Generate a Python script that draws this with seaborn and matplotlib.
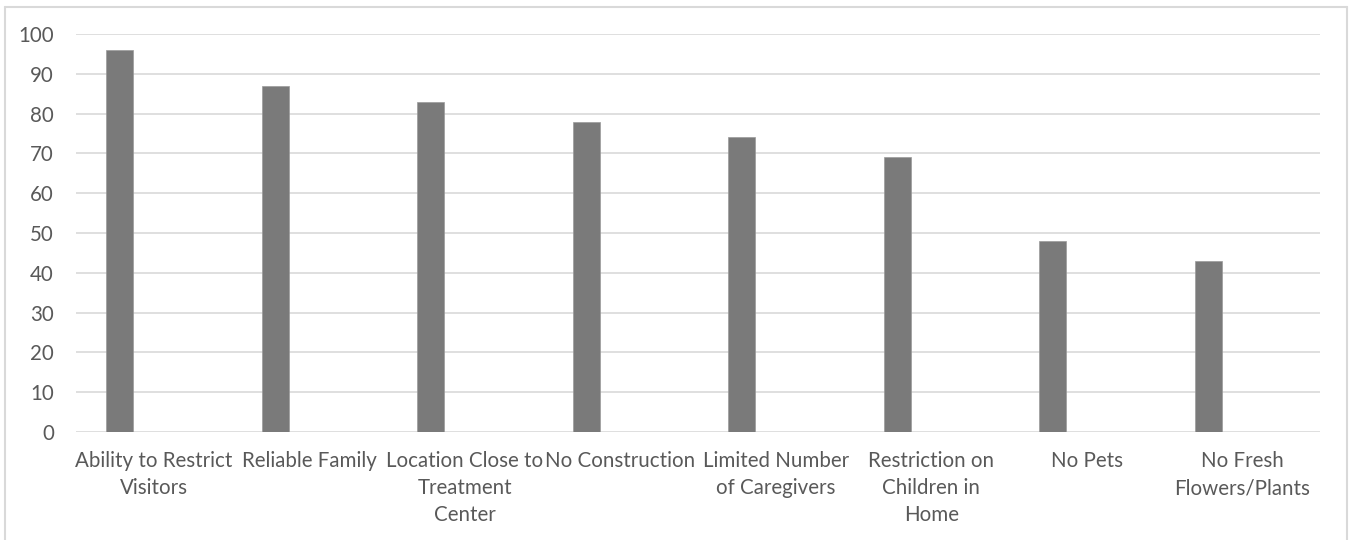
import matplotlib
matplotlib.use("Agg")
import matplotlib.pyplot as plt
import seaborn as sns
import pandas as pd
from matplotlib.lines import Line2D

categories = ["Ability to Restrict\nVisitors", "Reliable Family", "Location Close to\nTreatment\nCenter",
              "No Construction", "Limited Number\nof Caregivers", "Restriction on\nChildren in\nHome",
              "No Pets", "No Fresh\nFlowers/Plants"]
values = [96, 87, 83, 78, 74, 69, 48, 43]
yticks = [0, 10, 20, 30, 40, 50, 60, 70, 80, 90, 100]

sns.set_theme(style="white")
plt.rcParams['font.family'] = ['Lato', 'DejaVu Sans']

df = pd.DataFrame({"cat": categories, "val": values})

fig = plt.figure(figsize=(13.55, 5.4), dpi=100)
ax = fig.add_axes([76/1355, 1-432/540, (1320-76)/1355, (432-34)/540])
sns.barplot(data=df, x="cat", y="val", color="#7a7a7a", saturation=1, width=0.174, ax=ax,
            edgecolor="#9a9a9a", linewidth=0.5)
for p in ax.patches:
    p.set_x(p.get_x() - 0.219)

ax.set_ylim(0, 100)
ax.set_xlim(-0.5, len(categories) - 0.5)
ax.set_yticks(yticks)
ax.yaxis.grid(True, color="#d9d9d9", linewidth=1.2)
ax.set_axisbelow(True)
for s in ax.spines.values():
    s.set_visible(False)
ax.set_xlabel("")
ax.set_ylabel("")
ax.tick_params(axis="both", length=0, colors="#595959", labelsize=14.8)
ax.tick_params(axis="x", pad=14)
ax.tick_params(axis="y", pad=16)
for lab in ax.get_xticklabels():
    lab.set_linespacing(1.42)

# outer frame
W, H = 1355, 540
fc = "#d9d9d9"
fig.add_artist(Line2D([5/W, 5/W], [0, 1-7/H], color=fc, lw=1.5, transform=fig.transFigure))
fig.add_artist(Line2D([5/W, 1347/W], [1-7/H, 1-7/H], color=fc, lw=1.5, transform=fig.transFigure))
fig.add_artist(Line2D([1347/W, 1347/W], [0, 1-7/H], color=fc, lw=1.5, transform=fig.transFigure))

fig.savefig("out.png", dpi=100)
